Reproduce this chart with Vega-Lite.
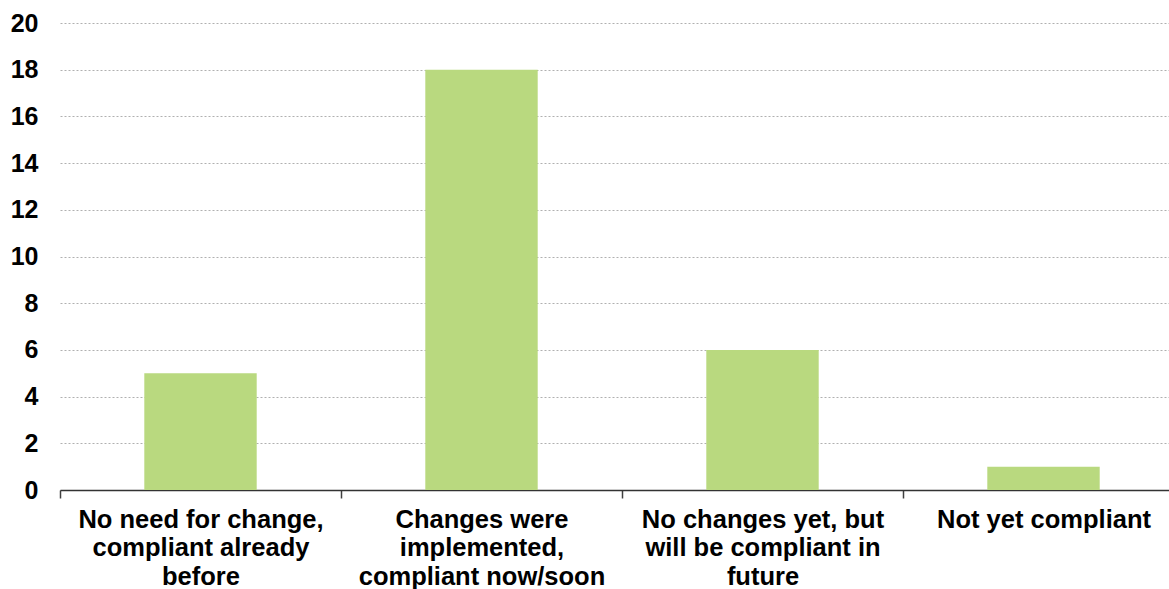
{
  "$schema": "https://vega.github.io/schema/vega-lite/v6.json",
  "autosize": "none",
  "padding": {"left": 60, "top": 23, "right": 0, "bottom": 99},
  "width": 1109,
  "height": 467,
  "background": "white",
  "data": {
    "values": [
      {"category": "No need for change,|compliant already|before", "count": 5},
      {"category": "Changes were|implemented,|compliant now/soon", "count": 18},
      {"category": "No changes yet, but|will be compliant in|future", "count": 6},
      {"category": "Not yet compliant", "count": 1}
    ]
  },
  "config": {
    "view": {"stroke": null},
    "font": "Liberation Sans"
  },
  "mark": {"type": "bar", "color": "#b9d97f"},
  "encoding": {
    "x": {
      "field": "category",
      "type": "nominal",
      "sort": null,
      "title": null,
      "scale": {"range": [0, 1124], "paddingInner": 0.6, "paddingOuter": 0.3},
      "axis": {
        "labelAngle": 0,
        "labelExpr": "split(datum.label, '|')",
        "labelFont": "Liberation Sans",
        "labelFontSize": 25.5,
        "labelFontWeight": "bold",
        "labelColor": "#000000",
        "labelLineHeight": 28.5,
        "labelPadding": 9,
        "labelLimit": 400,
        "tickOffset": -140.5,
        "labelOffset": 140.5,
        "tickSize": 8,
        "tickColor": "#404040",
        "tickWidth": 1.5,
        "domainColor": "#333333",
        "domainWidth": 1.5
      }
    },
    "y": {
      "field": "count",
      "type": "quantitative",
      "title": null,
      "scale": {"domain": [0, 20], "nice": false},
      "axis": {
        "values": [0, 2, 4, 6, 8, 10, 12, 14, 16, 18, 20],
        "domain": false,
        "ticks": false,
        "labelFont": "Liberation Sans",
        "labelFontSize": 25,
        "labelFontWeight": "bold",
        "labelColor": "#000000",
        "labelPadding": 22,
        "gridColor": "#b0b0b0",
        "gridDash": [2, 2],
        "gridWidth": 1
      }
    }
  }
}
